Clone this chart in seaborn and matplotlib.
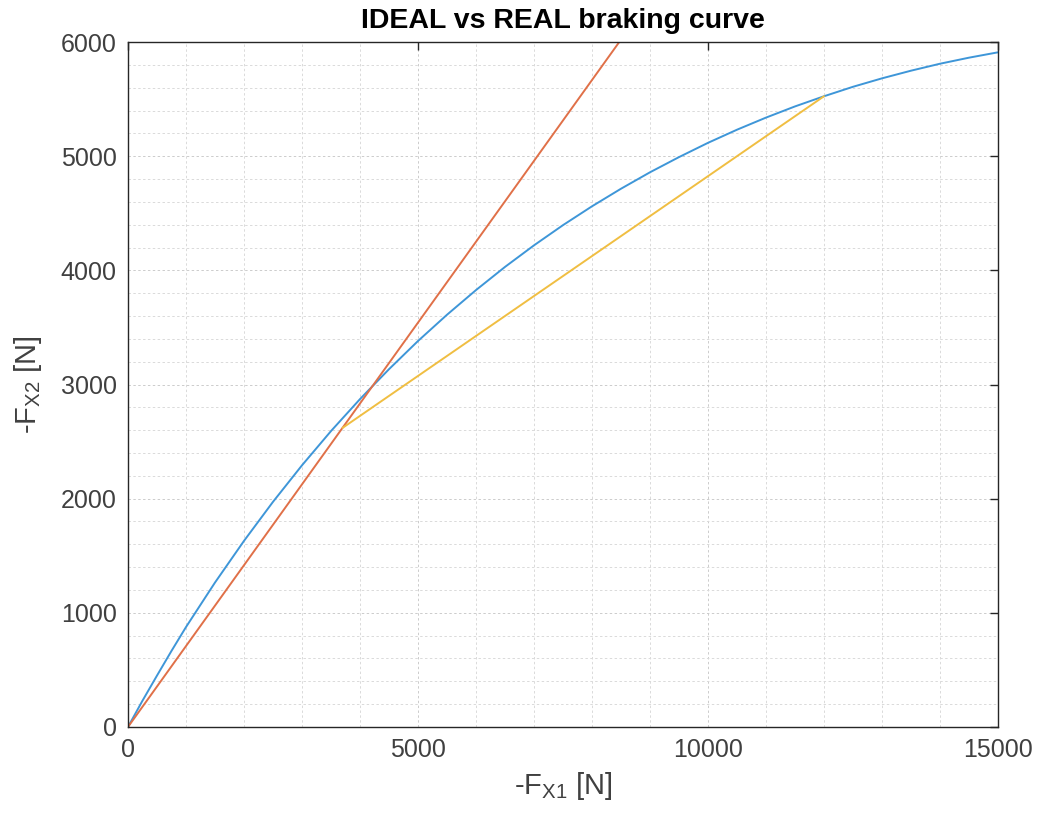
import numpy as np
import pandas as pd
import matplotlib.pyplot as plt
import matplotlib.ticker as mtick
import seaborn as sns

# valores
fx1_ideal = [0, 250, 500, 750, 1000, 1500, 2000, 2500, 3000, 3500, 4000, 4500,
             5000, 5500, 6000, 6500, 7000, 7500, 8000, 8500, 9000, 9500, 10000,
             10500, 11000, 11500, 12000, 12500, 13000, 13500, 14000, 14500, 15000]
fx2_ideal = [0, 230, 450, 666, 875, 1265, 1630, 1972, 2292, 2592, 2872, 3134,
             3381, 3611, 3827, 4030, 4219, 4396, 4561, 4715, 4859, 4992, 5117,
             5232, 5338, 5436, 5525, 5608, 5682, 5749, 5810, 5863, 5910]

fx1_linha = [0, 8470]
fx2_linha = [0, 6000]

fx1_real = [3700, 12000]
fx2_real = [2620, 5525]

azul = "#3E96D8"
laranja = "#E07048"
amarelo = "#F0BE42"

sns.set_theme(style="white")
plt.rcParams["font.family"] = ["Liberation Sans", "DejaVu Sans"]
plt.rcParams["mathtext.fontset"] = "custom"
plt.rcParams["mathtext.rm"] = "Liberation Sans"
plt.rcParams["mathtext.it"] = "Liberation Sans"

fig, ax = plt.subplots(figsize=(10.37, 8.13), dpi=100)
fig.subplots_adjust(left=0.1234, right=0.9624, bottom=0.1058, top=0.9483)

df_ideal = pd.DataFrame({"fx1": fx1_ideal, "fx2": fx2_ideal})
df_linha = pd.DataFrame({"fx1": fx1_linha, "fx2": fx2_linha})
df_real = pd.DataFrame({"fx1": fx1_real, "fx2": fx2_real})

sns.lineplot(data=df_ideal, x="fx1", y="fx2", color=azul, linewidth=1.4, sort=False, ax=ax)
sns.lineplot(data=df_linha, x="fx1", y="fx2", color=laranja, linewidth=1.4, sort=False, ax=ax)
sns.lineplot(data=df_real, x="fx1", y="fx2", color=amarelo, linewidth=1.4, sort=False, ax=ax)

ax.set_xlim(0, 15000)
ax.set_ylim(0, 6000)
ax.xaxis.set_major_locator(mtick.MultipleLocator(5000))
ax.yaxis.set_major_locator(mtick.MultipleLocator(1000))
ax.xaxis.set_minor_locator(mtick.MultipleLocator(1000))
ax.yaxis.set_minor_locator(mtick.MultipleLocator(200))

ax.grid(True, which="minor", linestyle=(0, (2.5, 2.5)), color="#dadada", linewidth=0.7)
ax.grid(True, which="major", linestyle=(0, (2.5, 2.5)), color="#cccccc", linewidth=0.7)
ax.set_axisbelow(True)

for spine in ax.spines.values():
    spine.set_color("#262626")
    spine.set_linewidth(1.0)

ax.tick_params(which="major", direction="in", length=6, width=1.0, color="#262626",
               top=True, right=True, labelsize=18, labelcolor="#404040", pad=8)
ax.tick_params(which="minor", length=0)

ax.set_title("IDEAL vs REAL braking curve", fontsize=20.5, fontweight="bold",
             color="black", pad=10)
ax.set_xlabel(r"-F$_{\mathrm{X1}}$ [N]", fontsize=21, color="#404040", labelpad=6)
ax.set_ylabel(r"-F$_{\mathrm{X2}}$ [N]", fontsize=21, color="#404040", labelpad=12)

fig.savefig("out.png", dpi=100)
